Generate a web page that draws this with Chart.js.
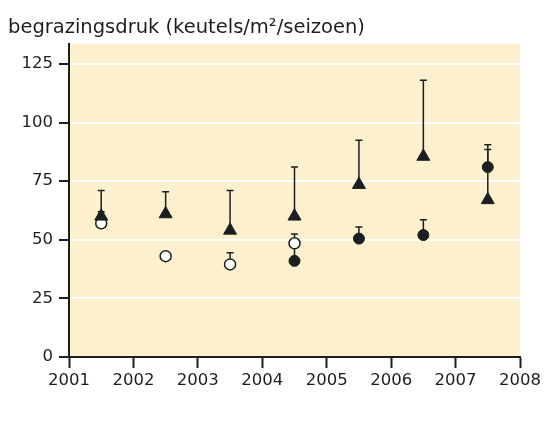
<!DOCTYPE html>
<html>
<head>
<meta charset="utf-8">
<script src="https://cdn.jsdelivr.net/npm/chart.js@4/dist/chart.umd.min.js"></script>
<style>
  html, body { margin: 0; padding: 0; background: #fff; }
  #wrap { width: 547px; height: 437px; position: relative; }
</style>
</head>
<body>
<div id="wrap"><canvas id="grafiek"></canvas></div>
<script>
// jaren (midden van het seizoen)
var jaren = [2001.5, 2002.5, 2003.5, 2004.5, 2005.5, 2006.5, 2007.5]
var xTicks = [2001, 2002, 2003, 2004, 2005, 2006, 2007, 2008]

// driehoeken
var driehoek    = [60, 61, 54, 60, 73.5, 85.5, 67]
var driehoekErr = [71, 70.5, 71, 81, 92.5, 118, 90.5]

// open cirkels
var openCirkel    = [57, 43, 39.5, 48.5, null, null, null]
var openCirkelErr = [62, null, 44.5, 52.5, null, null, null]

// dichte cirkels
var dichtCirkel    = [null, null, null, 41, 50.5, 52, 81]
var dichtCirkelErr = [null, null, null, 47, 55.5, 58.5, 88.5]

var titel = 'begrazingsdruk (keutels/m²/seizoen)'
var donker = '#1e1e1e'

const punten = function(waarden){
    var out = []
    waarden.forEach((v, i) => {
        if (v !== null) out.push({ x: jaren[i], y: v })
    })
    return out
}

// achtergrond van het plotvlak
const achtergrond = {
    id: 'achtergrond',
    beforeDraw(chart){
        var ctx = chart.ctx, a = chart.chartArea
        ctx.save()
        ctx.fillStyle = '#fff'
        ctx.fillRect(0, 0, chart.width, chart.height)
        ctx.fillStyle = '#fdf0cf'
        ctx.fillRect(a.left, a.top, a.right - a.left, a.bottom - a.top)
        ctx.restore()
    }
}

// foutbalken (alleen naar boven)
const foutbalken = {
    id: 'foutbalken',
    beforeDatasetsDraw(chart){
        var ctx = chart.ctx
        var xs = chart.scales.x, ys = chart.scales.y
        ctx.save()
        ctx.strokeStyle = donker
        ctx.lineWidth = 1.5
        chart.data.datasets.forEach(ds => {
            var w = ds.waarden, e = ds.fouten
            w.forEach((v, i) => {
                if (v === null || e[i] === null) return
                var px = xs.getPixelForValue(jaren[i])
                var y0 = ys.getPixelForValue(v)
                var y1 = ys.getPixelForValue(e[i])
                ctx.beginPath()
                ctx.moveTo(px, y0)
                ctx.lineTo(px, y1)
                ctx.moveTo(px - 3.5, y1)
                ctx.lineTo(px + 3.5, y1)
                ctx.stroke()
            })
        })
        ctx.restore()
    }
}

var ctx = document.getElementById('grafiek').getContext('2d')

new Chart(ctx, {
    type: 'scatter',
    data: {
        datasets: [{
            data: punten(driehoek),
            waarden: driehoek,
            fouten: driehoekErr,
            pointStyle: 'triangle',
            pointRadius: 7.5,
            backgroundColor: donker,
            borderColor: donker,
            borderWidth: 1
        }, {
            data: punten(openCirkel),
            waarden: openCirkel,
            fouten: openCirkelErr,
            pointStyle: 'circle',
            pointRadius: 5.5,
            backgroundColor: '#fff',
            borderColor: donker,
            borderWidth: 1.5
        }, {
            data: punten(dichtCirkel),
            waarden: dichtCirkel,
            fouten: dichtCirkelErr,
            pointStyle: 'circle',
            pointRadius: 5.5,
            backgroundColor: donker,
            borderColor: donker,
            borderWidth: 1
        }]
    },
    options: {
        responsive: true,
        maintainAspectRatio: false,
        animation: false,
        layout: { padding: { left: 8, right: 27, top: 0, bottom: 0 } },
        plugins: {
            legend: { display: false },
            tooltip: { enabled: false },
            title: {
                display: true,
                text: titel,
                align: 'start',
                color: donker,
                font: { family: 'DejaVu Sans', size: 19.5, weight: 'normal', lineHeight: 1.2 },
                padding: { top: 16.3, bottom: 4.3 }
            }
        },
        scales: {
            x: {
                type: 'linear',
                min: 2001,
                max: 2008,
                afterBuildTicks: function(scale){
                    scale.ticks = xTicks.map(v => ({ value: v }))
                },
                afterFit: function(scale){ scale.height = 80 },
                ticks: {
                    color: donker,
                    font: { family: 'DejaVu Sans', size: 16.5 },
                    padding: 3,
                    maxRotation: 0,
                    callback: v => String(v)
                },
                grid: {
                    color: 'rgba(0,0,0,0)',
                    tickColor: donker,
                    tickWidth: 2,
                    tickLength: 11
                },
                border: { color: donker, width: 2 }
            },
            y: {
                min: 0,
                max: 133.5,
                afterFit: function(scale){ scale.width = 61 },
                ticks: {
                    stepSize: 25,
                    includeBounds: false,
                    color: donker,
                    font: { family: 'DejaVu Sans', size: 16.5 },
                    padding: 6
                },
                grid: {
                    color: c => (c.tick && c.tick.value === 0) ? 'rgba(0,0,0,0)' : '#ffffff',
                    lineWidth: 2,
                    tickColor: donker,
                    tickWidth: 2,
                    tickLength: 10
                },
                border: { color: donker, width: 2 }
            }
        }
    },
    plugins: [achtergrond, foutbalken]
})
</script>
</body>
</html>
